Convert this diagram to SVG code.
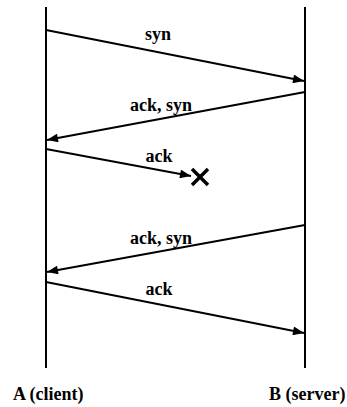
<svg xmlns="http://www.w3.org/2000/svg" width="347" height="407" viewBox="0 0 347 407">
<defs>
<style>
.life{stroke:#000;stroke-width:2;fill:none}
.msg{stroke:#000;stroke-width:2;fill:none;marker-end:url(#ah)}
text{font-family:'Liberation Serif','Times New Roman','DejaVu Serif',serif;font-weight:bold;font-size:18px;fill:#000}
.x{stroke:#000;stroke-width:3.5;fill:none}
</style>
<marker id="ah" viewBox="0 0 10 8" refX="10" refY="4" markerWidth="6" markerHeight="4.4" orient="auto" markerUnits="strokeWidth">
<path d="M0,0 L10,4 L0,8 Z" fill="#000"/>
</marker>
</defs>
<rect width="347" height="407" fill="#fff"/>
<g id="nodeA">
<line class="life" x1="46" y1="7" x2="46" y2="368"/>
<text x="13" y="400" font-family="Liberation Serif, serif">A (client)</text>
</g>
<g id="nodeB">
<line class="life" x1="305" y1="7" x2="305" y2="368"/>
<text x="269" y="400" font-family="Liberation Serif, serif">B (server)</text>
</g>
<g id="lost">
<path class="x" d="M192,169 L208,185 M208,169 L192,185"/>
</g>
<g id="connectors">
<line class="msg" x1="46" y1="30" x2="304" y2="81"/>
<line class="msg" x1="305" y1="92" x2="47" y2="140"/>
<line class="msg" x1="46" y1="149" x2="191" y2="176"/>
<line class="msg" x1="305" y1="225" x2="47" y2="272"/>
<line class="msg" x1="46" y1="282" x2="304" y2="333"/>
<text x="158" y="40" text-anchor="middle" font-family="Liberation Serif, serif">syn</text>
<text x="161" y="111" text-anchor="middle" font-family="Liberation Serif, serif">ack, syn</text>
<text x="159" y="162" text-anchor="middle" font-family="Liberation Serif, serif">ack</text>
<text x="161" y="244" text-anchor="middle" font-family="Liberation Serif, serif">ack, syn</text>
<text x="159" y="295" text-anchor="middle" font-family="Liberation Serif, serif">ack</text>
</g>
</svg>
